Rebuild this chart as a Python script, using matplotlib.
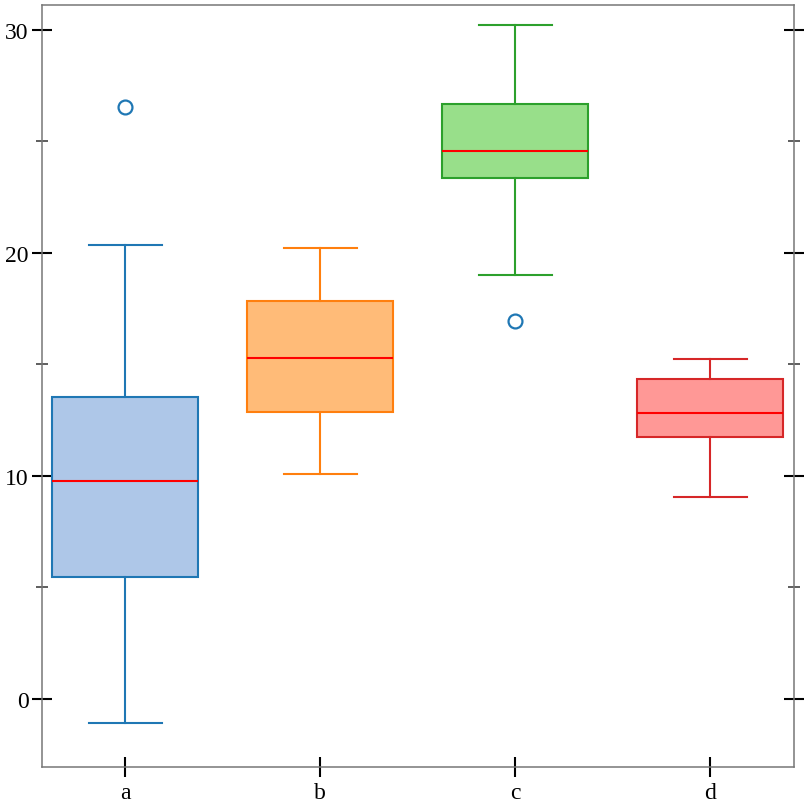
"""Box plot of four groups, a-d."""

import matplotlib
matplotlib.use('Agg')
import matplotlib.pyplot as plt
from matplotlib.ticker import MultipleLocator

plt.rcParams['font.family'] = ['Liberation Serif', 'DejaVu Serif']

# Summary stats
labels = ['a', 'b', 'c', 'd']
whisker_low = [-1.08, 10.08, 19.01, 9.06]
q1 = [5.46, 12.86, 23.36, 11.75]
median = [9.78, 15.31, 24.57, 12.83]
q3 = [13.54, 17.85, 26.68, 14.35]
whisker_high = [20.37, 20.21, 30.22, 15.25]
outliers = [[26.56], [], [16.95], []]

edge_colors = ['#1f77b4', '#ff7f0e', '#2ca02c', '#d62728']
fill_colors = ['#aec7e8', '#ffbb78', '#98df8a', '#ff9896']

stats = []
for i, lab in enumerate(labels):
    stats.append({
        'label': lab,
        'whislo': whisker_low[i],
        'q1': q1[i],
        'med': median[i],
        'q3': q3[i],
        'whishi': whisker_high[i],
        'fliers': outliers[i],
    })

fig = plt.figure(figsize=(8.12, 8.12), dpi=100)
ax = fig.add_axes([42 / 812, 1 - 768 / 812, 752 / 812, 762 / 812])

bp = ax.bxp(
    stats,
    widths=0.75,
    patch_artist=True,
    medianprops={'color': 'red', 'linewidth': 1.5},
    flierprops={'marker': 'o', 'markerfacecolor': 'none',
                'markeredgecolor': '#1f77b4', 'markersize': 10,
                'markeredgewidth': 1.6},
)

for i, box in enumerate(bp['boxes']):
    box.set_facecolor(fill_colors[i])
    box.set_edgecolor(edge_colors[i])
    box.set_linewidth(1.5)
    for line in bp['whiskers'][2 * i:2 * i + 2] + bp['caps'][2 * i:2 * i + 2]:
        line.set_color(edge_colors[i])
        line.set_linewidth(1.5)

ax.set_xlim(0.573, 4.429)
ax.set_ylim(-3.05, 31.12)

ax.yaxis.set_major_locator(MultipleLocator(10))
ax.yaxis.set_minor_locator(MultipleLocator(5))

ax.tick_params(axis='both', which='major', direction='inout', length=15,
               width=1.5, color='black', labelsize=17, pad=2)
ax.tick_params(axis='y', which='both', right=True)
ax.tick_params(axis='y', which='minor', direction='inout', length=9,
               width=1.1, color='#333333')
ax.tick_params(axis='x', which='major', pad=3)

for spine in ax.spines.values():
    spine.set_color('#777777')
    spine.set_linewidth(1.1)

fig.savefig('out.png', dpi=100)
